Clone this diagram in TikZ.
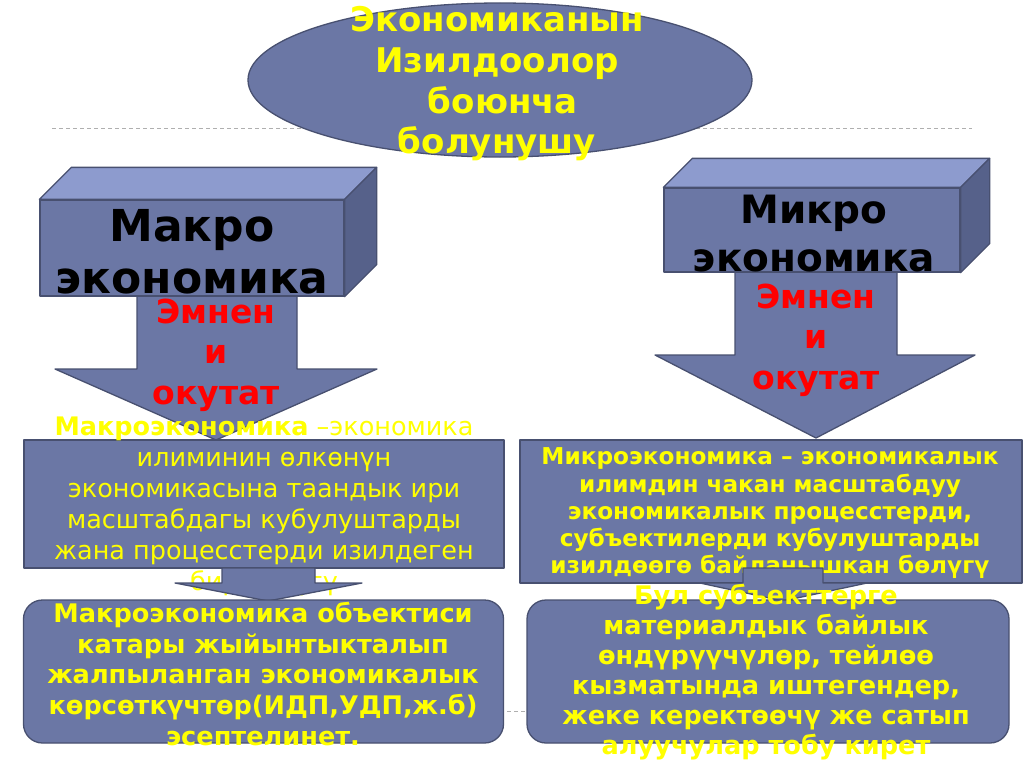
\documentclass[tikz,border=0pt]{standalone}
\usepackage{fontspec}
\setmainfont{DejaVu Sans}
\usetikzlibrary{shapes.geometric}
\definecolor{boxfill}{RGB}{107,119,165}
\definecolor{topfill}{RGB}{141,155,206}
\definecolor{sidefill}{RGB}{86,97,138}
\definecolor{edgec}{RGB}{72,80,112}
\definecolor{ylw}{RGB}{255,255,0}
\definecolor{rd}{RGB}{255,0,0}
\definecolor{dshc}{RGB}{175,175,175}
\tikzset{
  face/.style={fill=boxfill, draw=edgec, line width=1.3pt, line join=round},
  topface/.style={fill=topfill, draw=edgec, line width=1.3pt, line join=round},
  sideface/.style={fill=sidefill, draw=edgec, line width=1.3pt, line join=round},
  blockbox/.style={face, rectangle, inner sep=0pt},
  guide/.style={draw=dshc, line width=1pt, dash pattern=on 4pt off 3pt},
  ytext/.style={text=ylw, align=center, inner sep=0pt},
  rtext/.style={text=rd, align=center, inner sep=0pt, font=\fontsize{33}{40.5}\selectfont\bfseries},
  ktext/.style={text=black, align=center, inner sep=0pt},
}
\begin{document}
\begin{tikzpicture}[x=1pt,y=-1pt]
\useasboundingbox[fill=white] (0,0) rectangle (1024,768);

% guide lines
\coordinate (g1a) at (52,128);  \coordinate (g1b) at (972,128);
\coordinate (g2a) at (52,711);  \coordinate (g2b) at (972,711);
\draw[guide] (g1a) -- (g1b);
\draw[guide] (g2a) -- (g2b);

% top ellipse
\node[ellipse, face, minimum width=504, minimum height=154, inner sep=0pt] (ell) at (500,80) {};
\node[ytext, font=\fontsize{34}{40.7}\selectfont\bfseries] (title) at (497,84)
  {Экономиканын\\Изилдоолор\\~боюнча\\болунушу};

% big arrows
\draw[face] (137,296) -- (137,369) -- (55,369) -- (216,440) -- (377,369) -- (297,369) -- (297,296) -- cycle;
\draw[face] (735,272) -- (735,355) -- (655,355) -- (816,438) -- (975,355) -- (897,355) -- (897,272) -- cycle;

% macro box
\node[blockbox, minimum width=304, minimum height=96] (macro) at (192,248) {};
\draw[topface] (macro.north west) -- ++(32,-32) -- ([shift={(32,-32)}]macro.north east) -- (macro.north east) -- cycle;
\draw[sideface] (macro.north east) -- ++(32,-32) -- ([shift={(32,-32)}]macro.south east) -- (macro.south east) -- cycle;
\node[ktext, font=\fontsize{44}{52}\selectfont\bfseries] (macrot) at (192,252) {Макро\\экономика};

% micro box
\node[blockbox, minimum width=296, minimum height=84] (micro) at (812,230) {};
\draw[topface] (micro.north west) -- ++(29,-29) -- ([shift={(29,-29)}]micro.north east) -- (micro.north east) -- cycle;
\draw[sideface] (micro.north east) -- ++(29,-29) -- ([shift={(29,-29)}]micro.south east) -- (micro.south east) -- cycle;
\node[ktext, font=\fontsize{39}{48}\selectfont\bfseries] (microt) at (814,234) {Микро\\экономика};

% red texts
\node[rtext] (lq) at (216,355) {Эмнен\\и\\окутат};
\node[rtext] (rq) at (816,340) {Эмнен\\и\\окутат};

% middle rectangles
\node[blockbox, minimum width=480, minimum height=128] (lmid) at (264,504) {};
\node[blockbox, minimum width=502, minimum height=143] (rmid) at (771,511.5) {};

\node[ytext, font=\fontsize{25.5}{31}\selectfont] (lmidt) at (264,506)
  {{\bfseries Макроэкономика} –экономика\\илиминин өлкөнүн\\экономикасына таандык ири\\масштабдагы кубулуштарды\\жана процесстерди изилдеген\\бир бөлүгү};
\node[ytext, font=\fontsize{23.2}{27.25}\selectfont\bfseries] (rmidt) at (770,513.5)
  {Микроэкономика – экономикалык\\илимдин чакан масштабдуу\\экономикалык процесстерди,\\субъектилерди кубулуштарды\\изилдөөгө байланышкан бөлүгү};

% small arrows
\draw[face] (222,568) -- (222,583) -- (175,583) -- (268,601) -- (362,583) -- (315,583) -- (315,568) -- cycle;
\draw[face] (743,568) -- (743,583) -- (700,583) -- (783,601) -- (867,583) -- (823,583) -- (823,568) -- cycle;

% bottom boxes
\node[blockbox, rounded corners=19pt, minimum width=480, minimum height=143] (lbot) at (263.5,671.5) {};
\node[blockbox, rounded corners=19pt, minimum width=482, minimum height=143] (rbot) at (768,671.5) {};

\node[ytext, font=\fontsize{25.6}{30.75}\selectfont\bfseries] (lbott) at (263,674)
  {Макроэкономика объектиси\\катары жыйынтыкталып\\жалпыланган экономикалык\\көрсөткүчтөр(ИДП,УДП,ж.б)\\эсептелинет.};
\node[ytext, font=\fontsize{25.6}{30}\selectfont\bfseries] (rbott) at (766,672.5)
  {Бул субъекттерге\\материалдык байлык\\өндүрүүчүлөр, тейлөө\\кызматында иштегендер,\\жеке керектөөчү же сатып\\алуучулар тобу кирет};
\end{tikzpicture}
\end{document}
